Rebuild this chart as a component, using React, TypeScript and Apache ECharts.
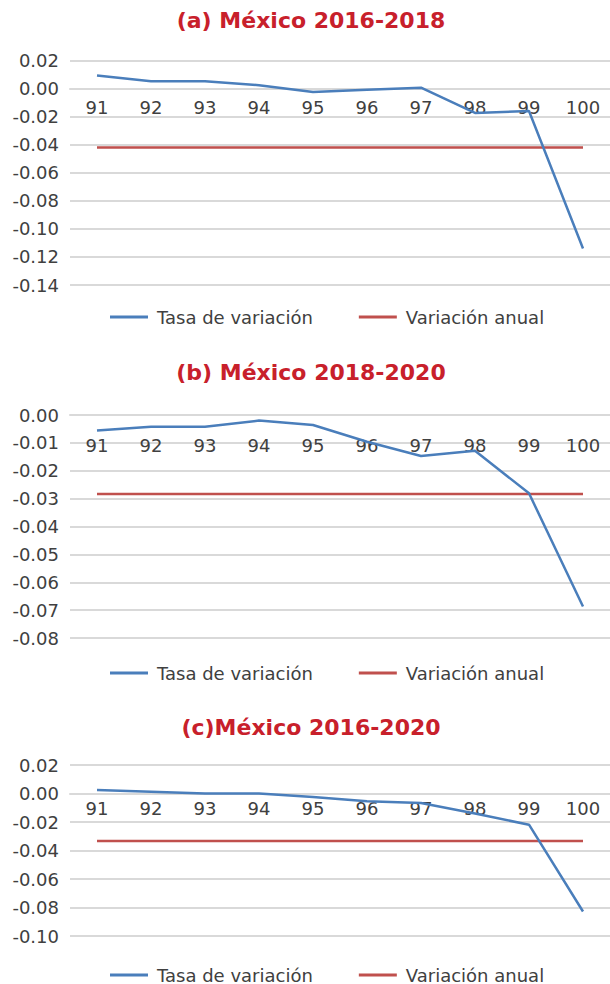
import React, { useEffect, useRef } from "react";
import * as echarts from "echarts";

const categories = ["91", "92", "93", "94", "95", "96", "97", "98", "99", "100"];

const titles = ["(a) México 2016-2018", "(b) México 2018-2020", "(c)México 2016-2020"];

const tasaA = [0.0093, 0.0052, 0.0052, 0.0024, -0.0024, -0.0008, 0.0006, -0.0174, -0.016, -0.114];
const anualA = [-0.042, -0.042, -0.042, -0.042, -0.042, -0.042, -0.042, -0.042, -0.042, -0.042];

const tasaB = [-0.0056, -0.0042, -0.0042, -0.002, -0.0036, -0.0096, -0.0147, -0.0128, -0.0281, -0.0687];
const anualB = [-0.0283, -0.0283, -0.0283, -0.0283, -0.0283, -0.0283, -0.0283, -0.0283, -0.0283, -0.0283];

const tasaC = [0.0024, 0.0012, 0.0, 0.0, -0.0024, -0.0054, -0.0066, -0.0141, -0.0219, -0.0828];
const anualC = [-0.0334, -0.0334, -0.0334, -0.0334, -0.0334, -0.0334, -0.0334, -0.0334, -0.0334, -0.0334];

const yMin = [-0.14, -0.08, -0.1];
const yMax = [0.02, 0.0, 0.02];
const yStep = [0.02, 0.01, 0.02];

const seriesNames = ["Tasa de variación", "Variación anual"];

const FONT = "DejaVu Sans";
const BLUE = "#4A7EBB";
const RED = "#C0504D";
const GRID = "#D9D9D9";
const TXT = "#404040";

export default function App() {
  const ref = useRef<HTMLDivElement>(null);

  useEffect(() => {
    if (!ref.current) return;
    const chart = echarts.init(ref.current, undefined, { renderer: "svg" });

    const panels = [
      { title: titles[0], tasa: tasaA, anual: anualA, titleY: 20, top: 60.5, height: 224.5, legendY: 317, labelMargin: 10 },
      { title: titles[1], tasa: tasaB, anual: anualB, titleY: 372, top: 415, height: 223, legendY: 673, labelMargin: 21 },
      { title: titles[2], tasa: tasaC, anual: anualC, titleY: 727, top: 765, height: 171, legendY: 975, labelMargin: 6 },
    ];

    const fmt = (v: number) => (Math.abs(v) < 1e-9 ? "0.00" : v.toFixed(2));

    const option: any = {
      animation: false,
      backgroundColor: "#ffffff",
      textStyle: { fontFamily: FONT },
      graphic: panels.map((p) => ({
        type: "text",
        x: 311,
        y: p.titleY,
        style: {
          text: p.title,
          fill: "#C8202B",
          font: `bold 22px "${FONT}"`,
          textAlign: "center",
          textVerticalAlign: "middle",
        },
      })),
      legend: panels.map((p) => ({
        data: seriesNames,
        left: 110,
        top: p.legendY - 9,
        padding: 0,
        icon: "rect",
        itemWidth: 38,
        itemHeight: 3,
        itemGap: 46,
        selectedMode: false,
        textStyle: { fontFamily: FONT, fontSize: 18, color: TXT, lineHeight: 18, padding: [0, 0, 0, 4] },
      })),
      grid: panels.map((p) => ({
        left: 70,
        right: 0,
        top: p.top,
        height: p.height,
        containLabel: false,
      })),
      xAxis: panels.map((p, i) => ({
        type: "category",
        gridIndex: i,
        data: categories,
        boundaryGap: true,
        position: "bottom",
        // place the category axis where the value axis crosses zero
        offset: -(p.height * (0 - yMin[i])) / (yMax[i] - yMin[i]),
        axisLine: { show: true, onZero: false, lineStyle: { color: GRID, width: 2 } },
        axisTick: { show: false },
        axisLabel: { fontFamily: FONT, fontSize: 18, color: TXT, margin: p.labelMargin, interval: 0 },
        splitLine: { show: false },
      })),
      yAxis: panels.map((p, i) => ({
        type: "value",
        gridIndex: i,
        min: yMin[i],
        max: yMax[i],
        interval: yStep[i],
        axisLine: { show: false },
        axisTick: { show: false },
        axisLabel: { fontFamily: FONT, fontSize: 18, color: TXT, margin: 11, formatter: fmt },
        splitLine: { show: true, lineStyle: { color: GRID, width: 2 } },
      })),
      series: panels.flatMap((p, i) => [
        {
          name: seriesNames[0],
          type: "line",
          xAxisIndex: i,
          yAxisIndex: i,
          data: p.tasa,
          symbol: "none",
          showSymbol: false,
          lineStyle: { color: BLUE, width: 2.5 },
          itemStyle: { color: BLUE },
          z: 3,
        },
        {
          name: seriesNames[1],
          type: "line",
          xAxisIndex: i,
          yAxisIndex: i,
          data: p.anual,
          symbol: "none",
          showSymbol: false,
          lineStyle: { color: RED, width: 2.5 },
          itemStyle: { color: RED },
          z: 2,
        },
      ]),
    };

    chart.setOption(option);
    return () => chart.dispose();
  }, []);

  return (
    <div
      ref={ref}
      style={{ position: "absolute", left: 0, top: 0, width: 610, height: 984, background: "#fff" }}
    />
  );
}
